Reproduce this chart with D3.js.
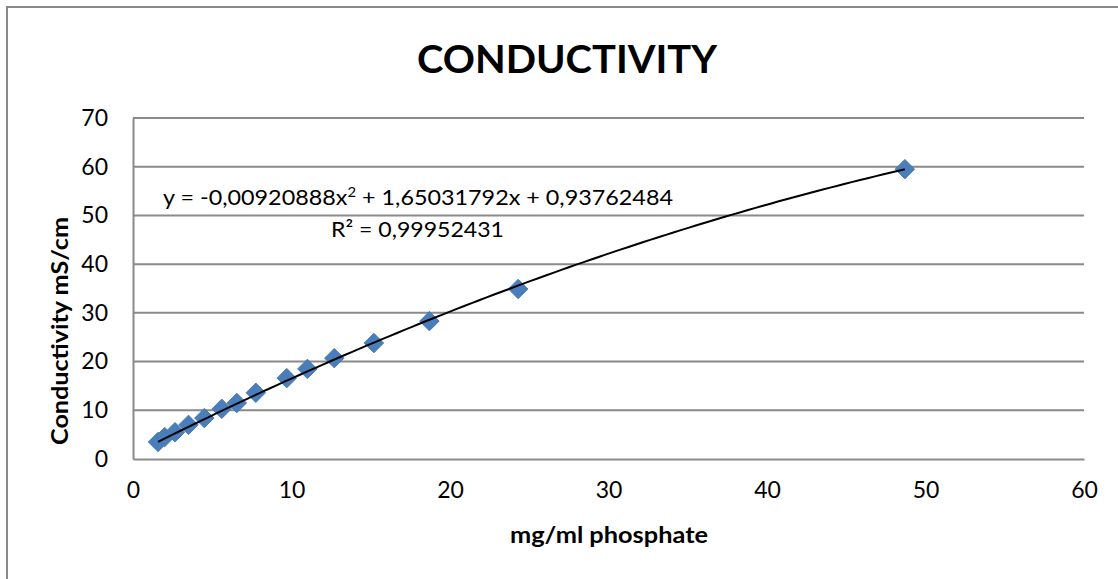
<!DOCTYPE html>
<html><head><meta charset="utf-8">
<script src="https://cdn.jsdelivr.net/npm/d3@7"></script>
<style>body{margin:0;background:#fff}svg{display:block}text{font-family:Lato,"Open Sans",sans-serif}</style>
</head><body>
<svg id="c" width="1118" height="579"></svg>
<script>
const phosphate = [1.58, 2.0, 2.65, 3.5, 4.5, 5.6, 6.55, 7.75, 9.7, 11.0, 12.7, 15.2, 18.7, 24.3, 48.7];
const conductivity = [3.5, 4.5, 5.5, 7.0, 8.4, 10.3, 11.5, 13.6, 16.6, 18.5, 20.7, 23.8, 28.3, 34.9, 59.5];
const coeffs = [-0.00920888, 1.65031792, 0.93762484];
const xTicks = [0, 10, 20, 30, 40, 50, 60];
const yTicks = [0, 10, 20, 30, 40, 50, 60, 70];
const title = "CONDUCTIVITY";
const xTitle = "mg/ml phosphate";
const yTitle = "Conductivity mS/cm";

const svg = d3.select("#c");
svg.append("rect").attr("x",7).attr("y",7).attr("width",1130).attr("height",600)
  .attr("fill","#fff").attr("stroke","#888").attr("stroke-width",2);

const x = d3.scaleLinear().domain([0,60]).range([133,1084]);
const y = d3.scaleLinear().domain([0,70]).range([459,118]);

svg.append("g").selectAll("line").data(yTicks.filter(d=>d>0)).join("line")
  .attr("x1",x(0)).attr("x2",x(60)).attr("y1",d=>y(d)).attr("y2",d=>y(d))
  .attr("stroke","#8a8a8a").attr("stroke-width",2);

const xa = svg.append("g").attr("transform",`translate(0,${y(0)})`)
  .call(d3.axisBottom(x).tickValues(xTicks).tickSize(0).tickPadding(23));
const ya = svg.append("g").attr("transform",`translate(${x(0)},0)`)
  .call(d3.axisLeft(y).tickValues(yTicks).tickSize(0).tickPadding(25));
[xa,ya].forEach(a=>{
  a.select(".domain").attr("stroke","#8a8a8a").attr("stroke-width",2);
  a.selectAll("text").attr("font-size",23).attr("fill","#000")
    .style("font-family","Lato,'Open Sans',sans-serif");
});

const poly = v => coeffs[0]*v*v + coeffs[1]*v + coeffs[2];
const xmin = d3.min(phosphate), xmax = d3.max(phosphate);
const pts = d3.range(0,101).map(i => xmin + (xmax-xmin)*i/100);

svg.append("g").selectAll("path").data(phosphate).join("path")
  .attr("transform",(d,i)=>`translate(${x(d)},${y(conductivity[i])})`)
  .attr("d", d3.symbol().type(d3.symbolDiamond2).size(240)())
  .attr("fill","#4a7ebb").attr("stroke","#4478b5").attr("stroke-width",1);

svg.append("path").datum(pts)
  .attr("d", d3.line().x(d=>x(d)).y(d=>y(poly(d))))
  .attr("fill","none").attr("stroke","#000").attr("stroke-width",2);

svg.append("text").attr("x",567).attr("y",73).attr("text-anchor","middle")
  .attr("font-size",39).attr("font-weight","bold").attr("textLength",300)
  .attr("lengthAdjust","spacingAndGlyphs").text(title);

svg.append("text").attr("x",609).attr("y",543).attr("text-anchor","middle")
  .attr("font-size",22).attr("font-weight","bold").attr("textLength",198)
  .attr("lengthAdjust","spacingAndGlyphs").text(xTitle);
svg.append("text").attr("transform","translate(68,331) rotate(-90)").attr("text-anchor","middle")
  .attr("font-size",22).attr("font-weight","bold").attr("textLength",228)
  .attr("lengthAdjust","spacingAndGlyphs").text(yTitle);

const fmt = v => String(v).replace(".", ",");
const eq = svg.append("text").attr("x",163).attr("y",205).attr("font-size",22)
  .attr("textLength",510).attr("lengthAdjust","spacingAndGlyphs");
eq.append("tspan").text(`y = ${fmt(coeffs[0])}x`);
eq.append("tspan").attr("dy",-8).attr("font-size",14).text("2");
eq.append("tspan").attr("dy",8).text(` + ${fmt(coeffs[1])}x + ${fmt(coeffs[2])}`);
svg.append("text").attr("x",331).attr("y",237).attr("font-size",22)
  .attr("textLength",173).attr("lengthAdjust","spacingAndGlyphs").text("R² = 0,99952431");
</script>
</body></html>
